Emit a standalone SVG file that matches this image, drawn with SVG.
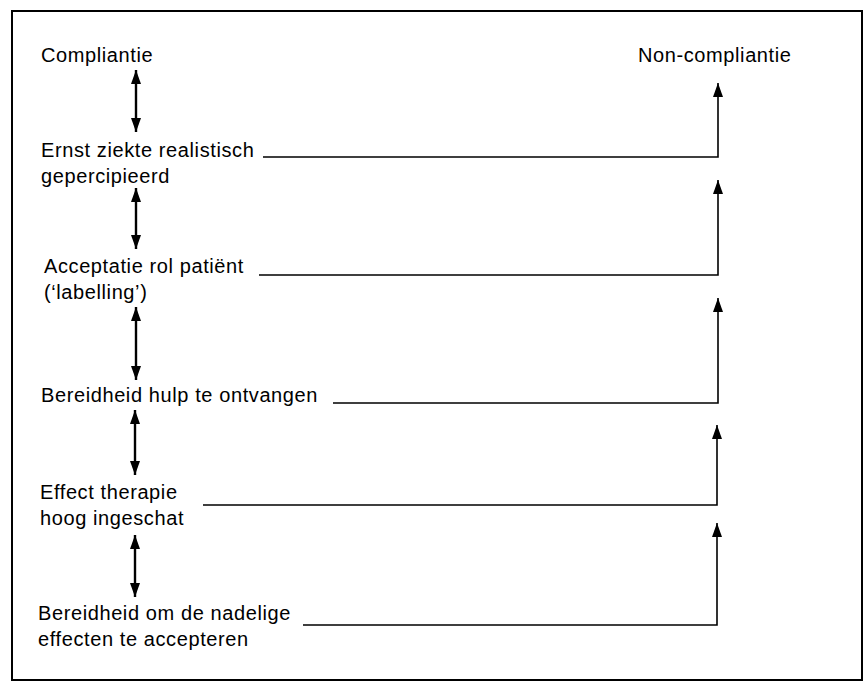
<svg xmlns="http://www.w3.org/2000/svg" width="863" height="682" viewBox="0 0 863 682">
<defs>
<marker id="ah" viewBox="0 0 14 10" refX="14" refY="5" markerWidth="14" markerHeight="10" markerUnits="userSpaceOnUse" orient="auto-start-reverse">
<path d="M0,0 L14,5 L0,10 Z" fill="#000"/>
</marker>
<style>
text{font-family:"Liberation Sans",Arial,sans-serif;font-size:20px;letter-spacing:0.6px;fill:#000}
.dbl{stroke:#000;stroke-width:2.4;fill:none;marker-start:url(#ah);marker-end:url(#ah)}
.con{stroke:#000;stroke-width:1.6;fill:none;marker-end:url(#ah)}
</style>
</defs>
<rect x="0" y="0" width="863" height="682" fill="#fff"/>
<rect x="12" y="11" width="850" height="669" fill="none" stroke="#000" stroke-width="2"/>
<g id="compliantie"><text x="41" y="62">Compliantie</text></g>
<g id="non-compliantie"><text x="638" y="62">Non-compliantie</text></g>
<g id="ernst"><text x="41" y="157">Ernst ziekte realistisch</text><text x="41" y="183">gepercipieerd</text></g>
<g id="acceptatie"><text x="44" y="273">Acceptatie rol patiënt</text><text x="44" y="299">(‘labelling’)</text></g>
<g id="bereidheid-hulp"><text x="41" y="402">Bereidheid hulp te ontvangen</text></g>
<g id="effect"><text x="40" y="499">Effect therapie</text><text x="40" y="525">hoog ingeschat</text></g>
<g id="bereidheid-nadelig"><text x="38" y="620">Bereidheid om de nadelige</text><text x="38" y="646">effecten te accepteren</text></g>
<g id="connectors">
<line class="dbl" x1="136" y1="70" x2="136" y2="132"/>
<line class="dbl" x1="136" y1="188" x2="136" y2="249"/>
<line class="dbl" x1="136" y1="307" x2="136" y2="380"/>
<line class="dbl" x1="135" y1="410" x2="135" y2="475"/>
<line class="dbl" x1="135" y1="535" x2="135" y2="597"/>
<path class="con" d="M263,157 H718 V83"/>
<path class="con" d="M259,275 H718 V180"/>
<path class="con" d="M333,403 H718 V298"/>
<path class="con" d="M203,505 H717 V425"/>
<path class="con" d="M303,625 H717 V523"/>
</g>
</svg>
